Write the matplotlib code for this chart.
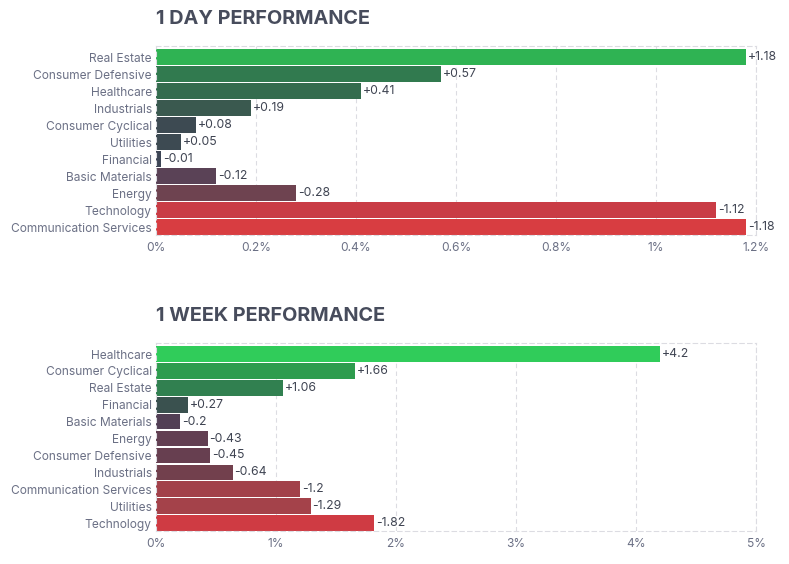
import numpy as np
import matplotlib
matplotlib.use("Agg")
from matplotlib import pyplot as plt

plt.rcParams['font.family'] = ['Inter', 'DejaVu Sans']

day_sectors = ['Real Estate', 'Consumer Defensive', 'Healthcare', 'Industrials',
               'Consumer Cyclical', 'Utilities', 'Financial', 'Basic Materials',
               'Energy', 'Technology', 'Communication Services']
day_values = [1.18, 0.57, 0.41, 0.19, 0.08, 0.05, -0.01, -0.12, -0.28, -1.12, -1.18]
day_colors = ['#2fb353', '#317a4f', '#346c4e', '#3a594f', '#3d4a52', '#3d4a52',
              '#3d4555', '#5a4256', '#6e4350', '#c93c45', '#d83d41']
day_ticks = [0, 0.2, 0.4, 0.6, 0.8, 1.0, 1.2]
day_ticklabels = ['0%', '0.2%', '0.4%', '0.6%', '0.8%', '1%', '1.2%']

week_sectors = ['Healthcare', 'Consumer Cyclical', 'Real Estate', 'Financial',
                'Basic Materials', 'Energy', 'Consumer Defensive', 'Industrials',
                'Communication Services', 'Utilities', 'Technology']
week_values = [4.2, 1.66, 1.06, 0.27, -0.2, -0.43, -0.45, -0.64, -1.2, -1.29, -1.82]
week_colors = ['#30cc5a', '#2e9c4e', '#318050', '#3a514f', '#523f55', '#623f52',
               '#673f50', '#72404d', '#a2414a', '#a4424a', '#cf3b43']
week_ticks = [0, 1, 2, 3, 4, 5]
week_ticklabels = ['0%', '1%', '2%', '3%', '4%', '5%']

fig = plt.figure(figsize=(7.89, 5.64), dpi=100)
ax1 = fig.add_axes([0.1977, 0.5833, 0.7605, 0.335])
ax2 = fig.add_axes([0.1977, 0.0585, 0.7605, 0.3333])

def draw(ax, title, sectors, values, colors, ticks, ticklabels):
    y = np.arange(len(sectors))
    widths = np.abs(values)
    ax.barh(y, widths, height=0.92, color=colors)
    xmax = ticks[-1]
    for yi, v, w in zip(y, values, widths):
        ax.text(w + xmax * 0.003, yi, f"{v:+g}", va='center', ha='left',
                fontsize=8.8, color='#3f4452')
    ax.set_xlim(0, xmax)
    ax.set_ylim(len(sectors) - 0.53, -0.65)
    ax.set_yticks(y)
    ax.set_yticklabels(sectors)
    ax.set_xticks(ticks)
    ax.set_xticklabels(ticklabels)
    ax.tick_params(length=0, labelsize=8.6, colors='#6b7085', pad=3)
    ax.tick_params(axis='x', pad=5)
    ax.grid(axis='x', color='#dcdce2', linestyle=(0, (4, 3)), linewidth=0.8)
    ax.set_axisbelow(True)
    for s in ax.spines.values():
        s.set_linestyle((0, (4, 3)))
        s.set_color('#dcdce2')
        s.set_linewidth(0.8)
    ax.text(0, 1.095, title, transform=ax.transAxes, ha='left', va='bottom',
            fontsize=14.3, fontweight='bold', color='#474c5c')

draw(ax1, '1 DAY PERFORMANCE', day_sectors, day_values, day_colors, day_ticks, day_ticklabels)
draw(ax2, '1 WEEK PERFORMANCE', week_sectors, week_values, week_colors, week_ticks, week_ticklabels)

fig.savefig('out.png', dpi=100)
